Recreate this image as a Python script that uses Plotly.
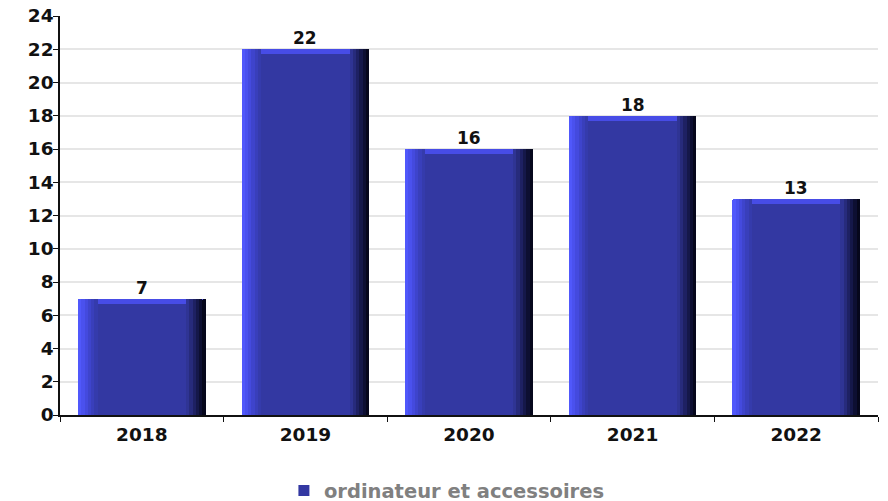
import plotly.graph_objects as go

years = ["2018", "2019", "2020", "2021", "2022"]
values = [7, 22, 16, 18, 13]
series_name = "ordinateur et accessoires"
y_ticks = list(range(0, 25, 2))

BAR_W = 0.78
HALF = BAR_W / 2
STRIP = 0.02
left_colors = ["#5058fb", "#4a51ee", "#444ade", "#3e44cc", "#393fbb", "#353bac"]
right_colors = ["#2f3494", "#272b7c", "#1e2163", "#15184a", "#0d0f32", "#06071c"]
TOP_H = 0.3
MAIN = "#3338a2"

fig = go.Figure()

# main bar body
fig.add_bar(
    x=years, y=values, width=BAR_W, name=series_name,
    marker=dict(color=MAIN, line=dict(width=0), cornerradius=5),
    showlegend=False,
)

# top bevel
fig.add_bar(
    x=years, y=[TOP_H] * len(values), base=[v - TOP_H for v in values],
    width=BAR_W, marker=dict(color="#474ce6", line=dict(width=0), cornerradius=5),
    showlegend=False, hoverinfo="skip",
)

# left highlight strips
for i, c in enumerate(left_colors):
    fig.add_bar(
        x=years, y=values, width=STRIP, offset=-HALF + i * STRIP,
        marker=dict(color=c, line=dict(width=0), cornerradius=3 if i == 0 else 0),
        showlegend=False, hoverinfo="skip",
    )

# right dark strips
for i, c in enumerate(right_colors):
    fig.add_bar(
        x=years, y=values, width=STRIP,
        offset=HALF - (len(right_colors) - i) * STRIP,
        marker=dict(color=c, line=dict(width=0), cornerradius=3 if i == len(right_colors) - 1 else 0),
        showlegend=False, hoverinfo="skip",
    )

# legend entry (square swatch)
fig.add_scatter(
    x=[None], y=[None], mode="markers", name=series_name,
    marker=dict(symbol="square", size=11, color=MAIN), showlegend=True,
)

# value labels above bars (category axis: position by category index)
for idx, v in enumerate(values):
    fig.add_annotation(
        x=idx, y=v, xref="x", yref="y", text=str(v), showarrow=False,
        yanchor="bottom", yshift=-1,
        font=dict(family="DejaVu Sans", size=17, color="#111111", weight="bold"),
    )

fig.update_layout(
    width=880, height=493,
    margin=dict(l=52, r=10, t=8, b=86, autoexpand=False),
    plot_bgcolor="white", paper_bgcolor="white",
    barmode="overlay", bargap=0,
    font=dict(family="DejaVu Sans", size=17, color="#111111"),
    legend=dict(
        orientation="h", x=0.473, xanchor="center", y=-0.19, yanchor="middle",
        font=dict(family="DejaVu Sans", size=19.5, color="#808080", weight="bold"),
    ),
    xaxis=dict(
        type="category", range=[-0.5, 4.5], automargin=False,
        showline=True, linecolor="#111111", linewidth=1.5,
        ticks="outside", ticklen=5, tickcolor="#111111", tickson="boundaries",
        showgrid=False, ticklabelstandoff=2,
        tickfont=dict(family="DejaVu Sans", size=18.5, color="#111111", weight="bold"),
    ),
    yaxis=dict(
        range=[0, 24], tickvals=y_ticks, automargin=False,
        showline=True, linecolor="#111111", linewidth=1.5,
        ticks="outside", ticklen=5, tickcolor="#111111",
        ticklabeloverflow="allow", ticklabelstandoff=-4,
        showgrid=True, gridcolor="#e6e6e6", gridwidth=1.5, zeroline=False,
        tickfont=dict(family="DejaVu Sans", size=18.5, color="#111111", weight="bold"),
    ),
)

fig.write_html("out.html")
